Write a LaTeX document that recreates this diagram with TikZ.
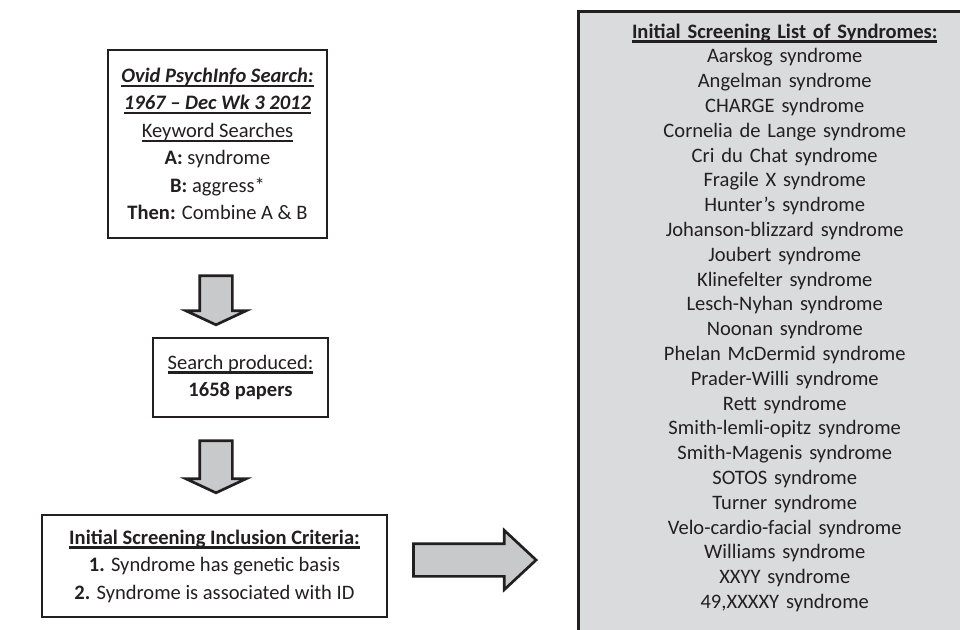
\documentclass[tikz,border=0pt]{standalone}
\usepackage{fontspec}
\setmainfont{Carlito}
\usetikzlibrary{shapes.arrows,positioning,calc}
\definecolor{inkdark}{HTML}{231F20}
\definecolor{listgrey}{HTML}{DADBDD}
\definecolor{arrowgrey}{HTML}{C8C9CB}
\newcommand{\thickul}[1]{\leavevmode\setbox0=\hbox{#1}\rlap{\rule[-3.4pt]{\wd0}{1.8pt}}\box0}

\tikzset{
  flowbox/.style={draw=inkdark, line width=2.2pt, fill=white, text=inkdark,
    align=center, inner sep=0pt, font=\fontsize{15.4}{20.6}\selectfont},
  listbox/.style={draw=inkdark, line width=2.6pt, fill=listgrey, text=inkdark,
    align=center, inner xsep=0pt, inner ysep=9pt, text width=309pt,
    font=\fontsize{15.4}{18.6}\selectfont},
  blockarrow/.style={single arrow, draw=inkdark, line width=2pt, fill=arrowgrey,
    inner xsep=0pt, inner ysep=11.25pt, single arrow head extend=10.5pt}
}

\begin{document}
\begin{tikzpicture}[x=0.75pt, y=-0.75pt]
    \useasboundingbox (0,0) rectangle (960,629);
    \clip (0,0) rectangle (960,629);

    % Search box
    \node[flowbox, minimum width=164.25pt, minimum height=141pt] (search) at (217.5,144)
      {\thickul{\textbf{\textit{Ovid PsychInfo Search:}}}\\
       \thickul{\textbf{\textit{1967 – Dec Wk 3 2012}}}\\
       \thickul{Keyword Searches}\\
       \textbf{A:} syndrome\\
       \textbf{B:} aggress*\\
       \textbf{Then:} Combine A \& B};

    % Result box
    \node[flowbox, minimum width=131.25pt, minimum height=59.25pt] (produced) at (240.5,377.5)
      {\raisebox{-2pt}{\thickul{Search produced:}}\\ \raisebox{-2pt}{\textbf{1658 papers}}};

    % Criteria box
    \node[flowbox, minimum width=258.75pt, minimum height=76.5pt] (criteria) at (214.5,566)
      {\raisebox{-2pt}{\thickul{\textbf{Initial Screening Inclusion Criteria:}}}\\
       \raisebox{-2pt}{\textbf{1.} Syndrome has genetic basis}\\
       \raisebox{-2pt}{\textbf{2.} Syndrome is associated with ID}};

    % Block arrows
    \node[blockarrow, rotate=-90, minimum height=36.75pt, single arrow tip angle=130] (down1) at (216,296.5) {};
    \node[blockarrow, rotate=-90, minimum height=39pt, single arrow tip angle=130] (down2) at (216,463) {};
    \node[blockarrow, minimum height=92pt, single arrow head extend=10pt, single arrow tip angle=86] (right1) at (466,560) {};

    % Syndrome list
    \node[listbox, anchor=north west] (synlist) at (577,10)
      {\thickul{\textbf{Initial Screening List of Syndromes:}}\\
       Aarskog syndrome\\ Angelman syndrome\\ CHARGE syndrome\\
       Cornelia de Lange syndrome\\ Cri du Chat syndrome\\ Fragile X syndrome\\
       Hunter’s syndrome\\ Johanson-blizzard syndrome\\ Joubert syndrome\\
       Klinefelter syndrome\\ Lesch-Nyhan syndrome\\ Noonan syndrome\\
       Phelan McDermid syndrome\\ Prader-Willi syndrome\\ Rett syndrome\\
       Smith-lemli-opitz syndrome\\ Smith-Magenis syndrome\\ SOTOS syndrome\\
       Turner syndrome\\ Velo-cardio-facial syndrome\\ Williams syndrome\\
       XXYY syndrome\\ 49,XXXXY syndrome\\[30pt]\mbox{}};
\end{tikzpicture}
\end{document}
